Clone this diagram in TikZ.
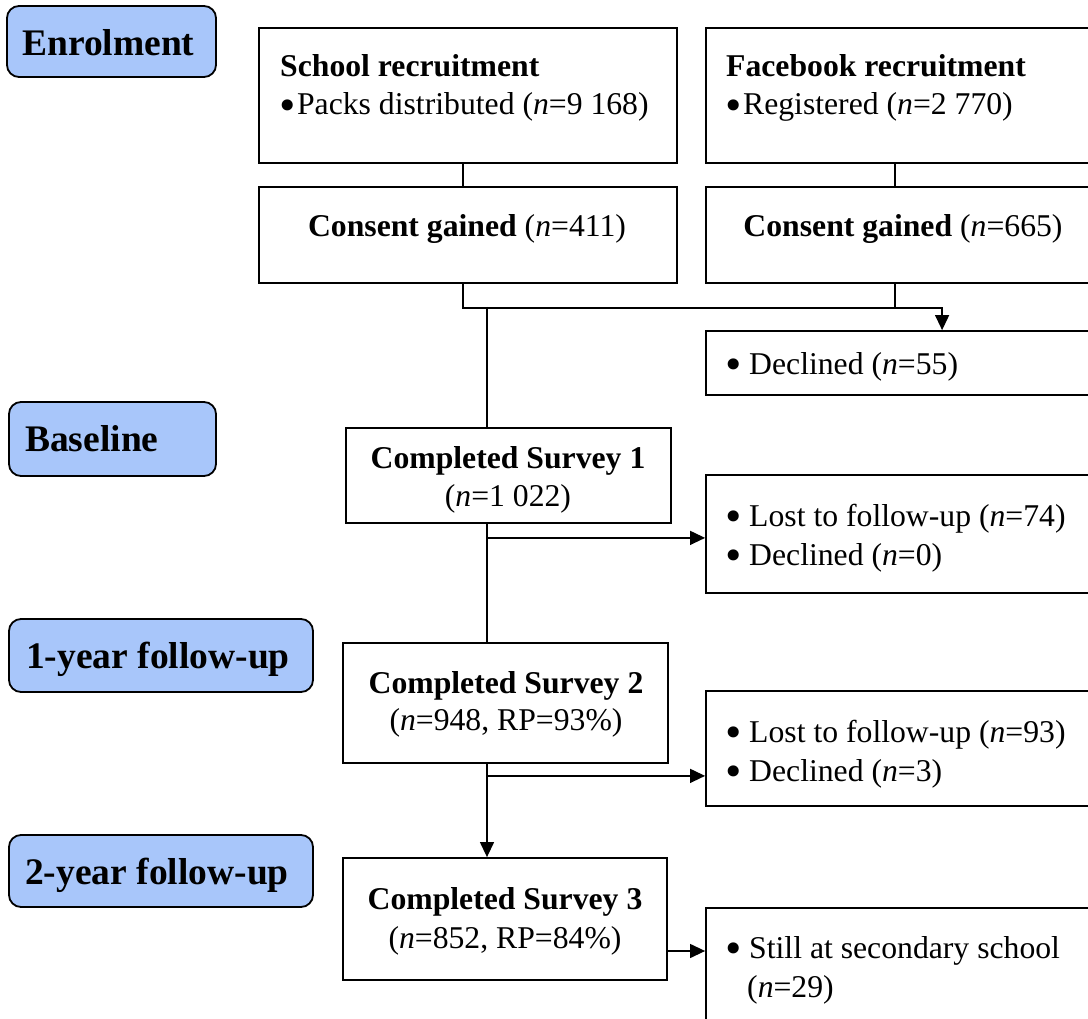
\documentclass[tikz,border=0pt]{standalone}
\usepackage{fontspec}
\setmainfont{Liberation Serif}
\newfontfamily\dvfont{DejaVu Sans}
\usetikzlibrary{arrows.meta,fit,calc}
\definecolor{labblue}{RGB}{168,198,250}
\newcommand{\fsz}{\fontsize{31.7}{38}\selectfont}
\newcommand{\fsl}{\fontsize{37.5}{44}\selectfont\bfseries}
\newcommand{\bigbul}{\raisebox{-4.5pt}{\dvfont\fontsize{38}{40}\selectfont •}}
\newcommand{\bul}{\bigbul\hspace{4.6pt}}
\newcommand{\bult}{\bigbul\hspace{-1.5pt}}
\begin{document}
\begin{tikzpicture}[x=1pt,y=-1pt,
  box/.style={draw, line width=1.8pt, inner sep=0pt},
  lab/.style={draw, line width=1.8pt, fill=labblue, rounded corners=12pt, inner sep=0pt},
  conn/.style={line width=1.3pt},
  arr/.style={conn, -{Triangle[length=15pt,width=14pt]}},
  txt/.style={anchor=base west, inner sep=0pt, font=\fsz},
  ctxt/.style={anchor=base, inner sep=0pt, font=\fsz},
  ltxt/.style={anchor=base west, inner sep=0pt, font=\fsl}]
\useasboundingbox (0,0) rectangle (1088,1019);
\clip (0,0) rectangle (1088,1019);

% stage labels
\node[lab, fit={(7,6)(216,77)}] (lab1) {};
\node[lab, fit={(9,402)(216,476)}] (lab2) {};
\node[lab, fit={(9,619)(313,692)}] (lab3) {};
\node[lab, fit={(9,835)(313,907)}] (lab4) {};
\node[ltxt] (l1) at (22,56) {Enrolment};
\node[ltxt] (l2) at (25,451) {Baseline};
\node[ltxt] (l3) at (26,668) {1-year follow-up};
\node[ltxt] (l4) at (25,884) {2-year follow-up};

% boxes
\node[box, fit={(259,28)(677,163)}] (school) {};
\node[box, fit={(706,28)(1110,163)}] (fb) {};
\node[box, fit={(259,187)(677,283)}] (cons1) {};
\node[box, fit={(706,187)(1110,283)}] (cons2) {};
\node[box, fit={(706,331)(1110,395)}] (decl) {};
\node[box, fit={(346,428)(671,523)}] (s1) {};
\node[box, fit={(706,475)(1110,593)}] (lost1) {};
\node[box, fit={(343,643)(668,763)}] (s2) {};
\node[box, fit={(706,691)(1110,806)}] (lost2) {};
\node[box, fit={(343,858)(667,980)}] (s3) {};
\node[box, fit={(706,908)(1110,1060)}] (still) {};

% texts
\node[txt] (t1a) at (280,77) {\textbf{School recruitment}};
\node[txt] (t1b) at (276,115) {\bult Packs distributed (\textit{n}=9 168)};
\node[txt] (t2a) at (726,77) {\textbf{Facebook recruitment}};
\node[txt] (t2b) at (722,115) {\bult Registered (\textit{n}=2 770)};
\node[ctxt] (c1) at (467,237) {\textbf{Consent gained} (\textit{n}=411)};
\node[ctxt] (c2) at (903,237) {\textbf{Consent gained} (\textit{n}=665)};
\node[txt] (d1) at (722,374) {\bul Declined (\textit{n}=55)};
\node[ctxt] (s1a) at (508,468) {\textbf{Completed Survey 1}};
\node[ctxt] (s1b) at (508,506) {(\textit{n}=1 022)};
\node[txt] (lo1a) at (722,526) {\bul Lost to follow-up (\textit{n}=74)};
\node[txt] (lo1b) at (722,565) {\bul Declined (\textit{n}=0)};
\node[ctxt] (s2a) at (506,693) {\textbf{Completed Survey 2}};
\node[ctxt] (s2b) at (506,730) {(\textit{n}=948, RP=93\%)};
\node[txt] (lo2a) at (722,742) {\bul Lost to follow-up (\textit{n}=93)};
\node[txt] (lo2b) at (722,781) {\bul Declined (\textit{n}=3)};
\node[ctxt] (s3a) at (505,909) {\textbf{Completed Survey 3}};
\node[ctxt] (s3b) at (505,948) {(\textit{n}=852, RP=84\%)};
\node[txt] (st1) at (722,958) {\bul Still at secondary school};
\node[txt] (st2) at (747,997) {(\textit{n}=29)};

% connectors
\draw[conn] ([xshift=-5pt]school.south) -- ([xshift=-5pt]cons1.north);
\draw[conn] ([xshift=-13pt]fb.south) -- ([xshift=-13pt]cons2.north);
\coordinate (dA) at ($(decl.north west)+(237,0)$);
\draw[arr] ([xshift=-5pt]cons1.south) -- ++(0,24) -| (dA);
\draw[conn] ([xshift=-13pt]cons2.south) -- ++(0,24);
\coordinate (t0) at (487,307);
\draw[conn] (t0) -- (t0 |- s1.north);
\draw[conn] (t0 |- s1.south) -- (t0 |- s2.north);
\draw[arr] (t0 |- s2.south) -- (t0 |- s3.north);
\coordinate (a1) at ($(t0 |- s1.south)+(0,14)$);
\draw[arr] (a1) -- (a1 -| lost1.west);
\coordinate (a2) at ($(t0 |- s2.south)+(0,12)$);
\draw[arr] (a2) -- (a2 -| lost2.west);
\draw[arr] ([yshift=-32pt]s3.east) -- ([yshift=-32pt]s3.east -| still.west);
\end{tikzpicture}
\end{document}
